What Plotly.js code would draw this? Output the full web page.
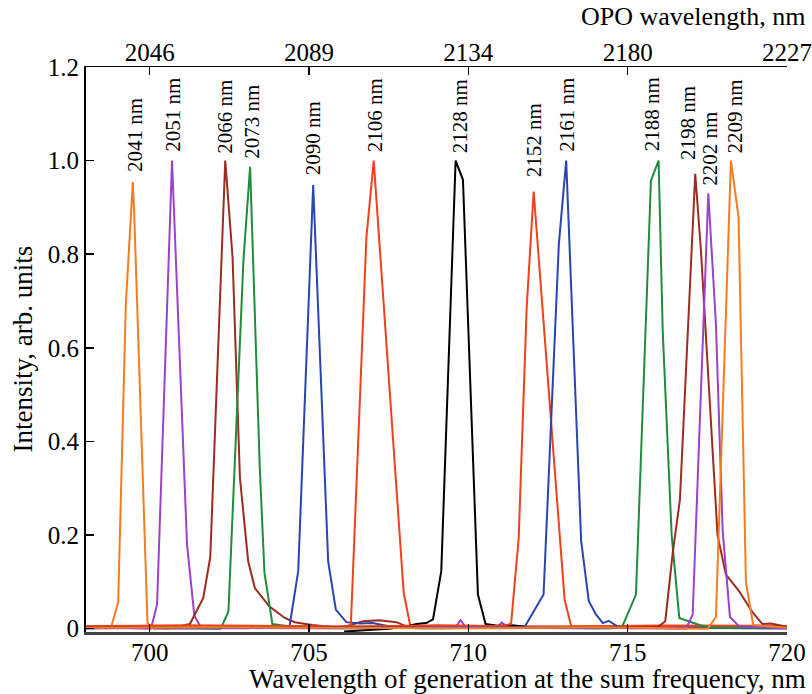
<!DOCTYPE html>
<html>
<head>
<meta charset="utf-8">
<script src="https://cdn.plot.ly/plotly-3.0.1.min.js"></script>
<style>html,body{margin:0;padding:0;background:#fff;}#chart{width:812px;height:694px;}</style>
</head>
<body>
<div id="chart"></div>
<script>
// ---- data ----
const bottomTicks = [700, 705, 710, 715, 720];
const topTickText = ['2046', '2089', '2134', '2180', '2227'];
const yTicks = [0, 0.2, 0.4, 0.6, 0.8, 1.0, 1.2];
const yTickText = ['0', '0.2', '0.4', '0.6', '0.8', '1.0', '1.2'];
const peakLabels = ['2041 nm','2051 nm','2066 nm','2073 nm','2090 nm','2106 nm','2128 nm','2152 nm','2161 nm','2188 nm','2198 nm','2202 nm','2209 nm'];

const x2041 = [698.0, 698.5, 698.78, 699.01, 699.25, 699.47, 699.51, 699.93, 700.14, 702, 705, 708, 711, 714, 717, 720];
const y2041 = [0.003, 0.002, 0.001, 0.057, 0.694, 0.954, 0.893, 0.012, 0.0, 0.002, 0.001, 0.003, 0.001, 0.003, 0.001, 0.002];

const x2051 = [698, 699, 700.04, 700.23, 700.70, 700.94, 701.17, 701.40, 701.61, 703, 705, 707, 709.6, 709.75, 709.9, 710.9, 711.05, 711.2, 713, 716, 720];
const y2051 = [0.001, 0.002, 0.0, 0.052, 1.0, 0.60, 0.18, 0.028, 0.002, 0.001, 0.003, 0.002, 0.003, 0.018, 0.005, 0.004, 0.013, 0.005, 0.003, 0.002, 0.001];

const x2066 = [698, 700, 700.61, 700.98, 701.26, 701.68, 701.90, 702.37, 702.6, 702.83, 703.09, 703.30, 703.75, 704.24, 704.55, 705.1, 705.8, 706.2, 706.7, 707.2, 707.74, 708.1, 709, 712, 716, 720];
const y2066 = [0.002, 0.001, 0.001, 0.006, 0.01, 0.066, 0.153, 1.0, 0.793, 0.323, 0.144, 0.087, 0.048, 0.023, 0.014, 0.008, 0.003, 0.006, 0.016, 0.018, 0.014, 0.004, 0.002, 0.003, 0.002, 0.003];

const x2073 = [698, 700, 702.23, 702.47, 702.94, 703.15, 703.23, 703.45, 703.6, 703.85, 704.3, 706, 709, 712, 716, 720];
const y2073 = [0.003, 0.002, 0.0, 0.037, 0.786, 0.987, 0.815, 0.35, 0.12, 0.01, 0.006, 0.002, 0.001, 0.002, 0.003, 0.002];

const x2090 = [698, 701, 704, 704.39, 704.66, 705.13, 705.60, 705.84, 706.17, 706.6, 707.0, 707.3, 707.7, 708.5, 711, 714, 717, 720];
const y2090 = [0.001, 0.002, 0.003, 0.006, 0.123, 0.948, 0.144, 0.041, 0.014, 0.011, 0.012, 0.008, 0.003, 0.001, 0.002, 0.001, 0.003, 0.001];

const x2106 = [698, 701, 704, 706.0, 706.31, 706.80, 707.03, 707.97, 708.18, 709, 712, 716, 720];
const y2106 = [0.005, 0.007, 0.004, 0.006, 0.005, 0.836, 1.0, 0.077, 0.005, 0.007, 0.005, 0.006, 0.005];

const x2128 = [706.1, 706.6, 707.0, 707.5, 708.0, 708.37, 708.68, 708.89, 709.15, 709.6, 709.83, 710.3, 710.54, 710.98, 711.3, 711.8];
const y2128 = [-0.006, -0.004, -0.003, 0.0, 0.004, 0.01, 0.012, 0.02, 0.123, 1.0, 0.959, 0.073, 0.01, 0.006, 0.008, 0.004];

const x2152 = [698, 702, 706, 709, 711.0, 711.34, 711.58, 711.83, 712.05, 713.02, 713.23, 716, 720];
const y2152 = [0.006, 0.007, 0.005, 0.007, 0.006, 0.01, 0.194, 0.686, 0.934, 0.062, 0.005, 0.007, 0.006];

const x2161 = [698, 702, 706, 709, 711.76, 712.08, 712.36, 712.84, 713.07, 713.54, 713.78, 714.01, 714.22, 714.4, 714.7, 715.0, 717, 720];
const y2161 = [0.002, 0.001, 0.003, 0.002, 0.003, 0.042, 0.073, 0.822, 1.0, 0.187, 0.059, 0.03, 0.012, 0.017, 0.004, 0.001, 0.002, 0.001];

const x2188 = [698, 702, 706, 710, 714.5, 714.82, 715.26, 715.52, 715.73, 715.97, 716.1, 716.38, 716.62, 717.25, 717.6, 720];
const y2188 = [0.002, 0.003, 0.001, 0.002, 0.001, 0.003, 0.073, 0.544, 0.957, 1.0, 0.636, 0.2, 0.023, 0.008, 0.002, 0.002];

const x2198 = [698, 702, 706, 710, 714, 715.94, 716.18, 716.41, 716.64, 717.12, 717.30, 717.82, 718.08, 718.50, 718.92, 719.23, 719.49, 720];
const y2198 = [0.003, 0.002, 0.003, 0.002, 0.003, 0.003, 0.016, 0.16, 0.276, 0.972, 0.807, 0.20, 0.116, 0.08, 0.035, 0.01, 0.011, 0.004];

const x2202 = [698, 702, 706, 710, 714, 716.83, 717.04, 717.53, 717.77, 717.98, 718.21, 718.5, 720];
const y2202 = [0.001, 0.002, 0.001, 0.003, 0.002, 0.0, 0.03, 0.93, 0.65, 0.21, 0.025, 0.005, 0.001];

const x2209 = [698, 702, 706, 710, 714, 717.51, 717.77, 718.24, 718.48, 718.71, 718.94, 720];
const y2209 = [0.002, 0.003, 0.002, 0.001, 0.003, 0.0, 0.025, 1.0, 0.879, 0.10, 0.008, 0.002];

// ---- styles ----
const ORANGE = '#f57c1f', PURPLE = '#9a42c8', BROWN = '#9c2b20', GREEN = '#1f8c3b',
      BLUE = '#2b44b3', RED = '#f0401c', BLACK = '#000000';
const series = [
  {x: x2041, y: y2041, color: ORANGE},
  {x: x2051, y: y2051, color: PURPLE},
  {x: x2066, y: y2066, color: BROWN},
  {x: x2073, y: y2073, color: GREEN},
  {x: x2090, y: y2090, color: BLUE},
  {x: x2106, y: y2106, color: RED},
  {x: x2128, y: y2128, color: BLACK},
  {x: x2152, y: y2152, color: RED},
  {x: x2161, y: y2161, color: BLUE},
  {x: x2188, y: y2188, color: GREEN},
  {x: x2198, y: y2198, color: BROWN},
  {x: x2202, y: y2202, color: PURPLE},
  {x: x2209, y: y2209, color: ORANGE}
];
// label offsets in pixels (style only)
const labelShiftX = [2, 1, -1, 2, 0, 1, 4, 0, 0, -7, -8, 2, 4];
const labelShiftY = [8, 7, 5, 6, 8, 6, 5, 12, 7, 7, 12, 6, 5];

const FONT = 'Liberation Serif, Times New Roman, serif';

const traces = series.map((s, i) => ({
  type: 'scatter', mode: 'lines', x: s.x, y: s.y, name: peakLabels[i],
  line: {color: s.color, width: 2}, showlegend: false, hoverinfo: 'x+y'
}));
// dummy trace to activate top axis
traces.push({type: 'scatter', mode: 'lines', x: [bottomTicks[0]], y: [null], xaxis: 'x2', showlegend: false, hoverinfo: 'skip'});

const annotations = series.map((s, i) => {
  let k = 0;
  s.y.forEach((v, j) => { if (v > s.y[k]) k = j; });
  return {
    x: s.x[k], y: s.y[k], xref: 'x', yref: 'y', text: peakLabels[i],
    textangle: -90, showarrow: false, xanchor: 'center', yanchor: 'bottom',
    xshift: labelShiftX[i], yshift: labelShiftY[i],
    font: {family: FONT, size: 21, color: '#000'}
  };
});
annotations.push({
  text: 'Wavelength of generation at the sum frequency, nm', xref: 'paper', yref: 'paper',
  x: 1.03, y: 0, xanchor: 'right', yanchor: 'top', yshift: -30, showarrow: false,
  font: {family: FONT, size: 27, color: '#000'}
});
annotations.push({
  text: 'OPO wavelength, nm', xref: 'paper', yref: 'paper',
  x: 1.03, y: 1, xanchor: 'right', yanchor: 'bottom', yshift: 34, showarrow: false,
  font: {family: FONT, size: 26, color: '#000'}
});
annotations.push({
  text: 'Intensity, arb. units', xref: 'paper', yref: 'paper',
  x: 0, y: 0.5, xanchor: 'right', yanchor: 'middle', xshift: -47, textangle: -90, showarrow: false,
  font: {family: FONT, size: 27, color: '#000'}
});

const layout = {
  width: 812, height: 694,
  margin: {l: 86, r: 25, t: 67, b: 62},
  paper_bgcolor: '#fff', plot_bgcolor: '#fff',
  font: {family: FONT, color: '#000'},
  showlegend: false,
  xaxis: {
    range: [698, 720], tickvals: bottomTicks, ticktext: bottomTicks.map(String),
    ticks: 'inside', ticklen: 8, tickwidth: 1.5, tickcolor: '#000',
    showline: true, linecolor: '#444', linewidth: 2.5, showgrid: false, zeroline: false,
    ticklabelstandoff: -4,
    tickfont: {family: FONT, size: 25, color: '#000'}
  },
  xaxis2: {
    overlaying: 'x', side: 'top', anchor: 'y', matches: 'x', range: [698, 720],
    tickvals: bottomTicks, ticktext: topTickText,
    ticks: 'inside', ticklen: 8, tickwidth: 1.5, tickcolor: '#000',
    showline: true, linecolor: '#000', linewidth: 1.5, showgrid: false, zeroline: false,
    ticklabelstandoff: -5,
    tickfont: {family: FONT, size: 25, color: '#000'}
  },
  yaxis: {
    range: [-0.007, 1.2], tickvals: yTicks, ticktext: yTickText,
    ticks: 'inside', ticklen: 8, tickwidth: 1.5, tickcolor: '#000',
    showline: true, linecolor: '#000', linewidth: 2, showgrid: false, zeroline: false,
    tickfont: {family: FONT, size: 25, color: '#000'}
  },
  annotations: annotations
};

Plotly.newPlot('chart', traces, layout, {displayModeBar: false, staticPlot: true});
</script>
</body>
</html>
